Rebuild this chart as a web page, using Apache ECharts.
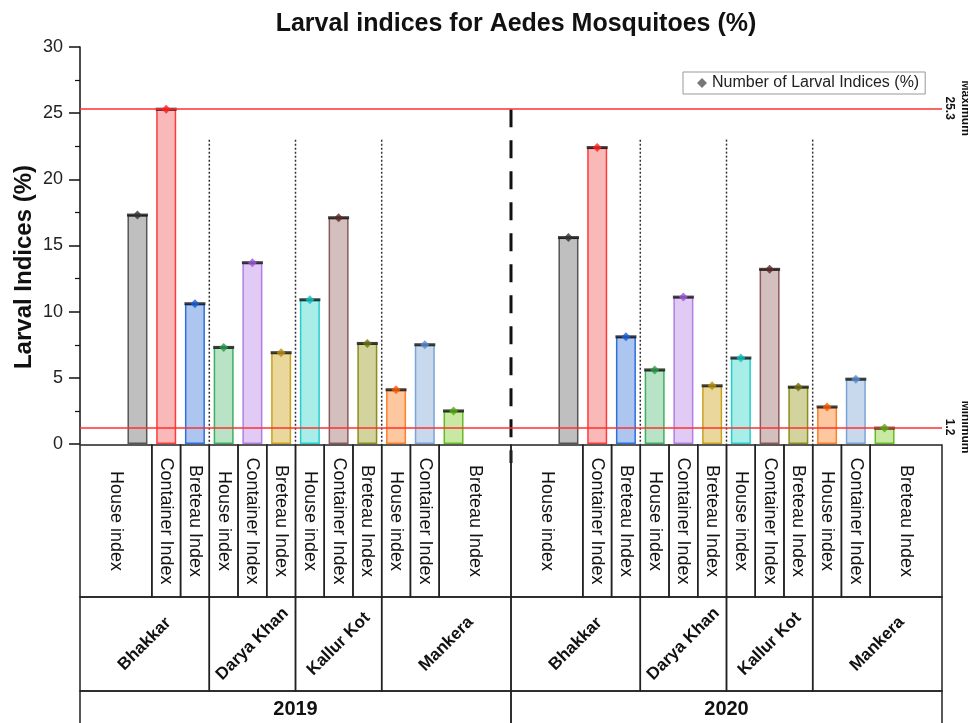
<!DOCTYPE html>
<html><head><meta charset="utf-8">
<script src="https://cdn.jsdelivr.net/npm/echarts@6/dist/echarts.min.js"></script>
<style>html,body{margin:0;padding:0;background:#fff}#c{width:968px;height:723px}</style>
</head><body><div id="c"></div>
<script>
// ---------- data ----------
const years = ['2019', '2020'];
const districts = ['Bhakkar', 'Darya Khan', 'Kallur Kot', 'Mankera'];
const indices = ['House index', 'Container Index', 'Breteau Index'];
const values2019 = [17.3, 25.3, 10.6, 7.3, 13.7, 6.9, 10.9, 17.1, 7.6, 4.1, 7.5, 2.5];
const values2020 = [15.6, 22.4, 8.1, 5.6, 11.1, 4.4, 6.5, 13.2, 4.3, 2.8, 4.9, 1.2];
const maxValue = 25.3;
const minValue = 1.2;
const seriesName = 'Number of Larval Indices (%)';
const chartTitle = 'Larval indices for Aedes Mosquitoes (%)';
const yAxisTitle = 'Larval Indices (%)';

// ---------- styles ----------
const FONT = '"Liberation Sans", Arial, Helvetica, sans-serif';
const barFill = ['#bfbfbf', '#f9b9b9', '#adc6ef', '#b8e3c6', '#e1cbf4', '#ead79c', '#a9ede9', '#d4bfbf', '#d3d49d', '#fdc8a0', '#c8d9ee', '#c9e8a4'];
const barBorder = ['#555555', '#ff3b3b', '#2f6fe0', '#3fae5f', '#b27ee6', '#c9a21f', '#25d0cc', '#8c5a5a', '#8b8b1f', '#ff7f27', '#7aa3d6', '#66bb22'];
const markColor = ['#333333', '#ff2020', '#1a5ed8', '#2a9a4a', '#9b59d8', '#b88e10', '#10c0c0', '#5a2a2a', '#707010', '#ff5a00', '#5a8ad0', '#55aa11'];

// ---------- layout on the x value axis (slots) ----------
const SLOTS_PER_YEAR = 15, FIRST_OFFSET = 2;
function pos(y, d, i) { return y * SLOTS_PER_YEAR + FIRST_OFFSET + d * indices.length + i; }

const yearValues = [values2019, values2020];
const barData = [], capData = [], markData = [];
yearValues.forEach((vals, y) => {
  districts.forEach((_, d) => {
    indices.forEach((_, i) => {
      const k = d * indices.length + i;
      const x = pos(y, d, i), v = vals[k];
      barData.push({ value: [x, v], itemStyle: { color: barFill[k], borderColor: barBorder[k], borderWidth: 1.5 } });
      capData.push([x, v]);
      markData.push({ value: [x, v], itemStyle: { color: markColor[k] } });
    });
  });
});

// table cells: [x0, x1, row, label]
const cells = [];
years.forEach((yr, y) => {
  const y0 = y * SLOTS_PER_YEAR, y1 = y0 + SLOTS_PER_YEAR;
  districts.forEach((dn, d) => {
    indices.forEach((lab, i) => {
      const x = pos(y, d, i);
      let a = x - 0.5, b = x + 0.5;
      if (d === 0 && i === 0) a = y0;
      if (d === districts.length - 1 && i === indices.length - 1) b = y1;
      cells.push([a, b, 0, lab]);
    });
    const a = d === 0 ? y0 : pos(y, d, 0) - 0.5;
    const b = d === districts.length - 1 ? y1 : pos(y, d, indices.length - 1) + 0.5;
    cells.push([a, b, 1, dn]);
  });
  cells.push([y0, y1, 2, yr]);
});

// separators: [kind, x, top]
const separators = [];
years.forEach((_, y) => {
  for (let d = 1; d < districts.length; d++) separators.push([0, pos(y, d, 0) - 0.5, 23]);
});
separators.push([1, SLOTS_PER_YEAR, maxValue]);

const refLines = [[maxValue, 'Maximum'], [minValue, 'Minimum']];

const chart = echarts.init(document.getElementById('c'), null, { renderer: 'canvas' });

const ROW_TOPS = [1, 153, 247, 300];
const ROW_FONTS = ['18px ' + FONT, 'bold 17px ' + FONT, 'bold 20px ' + FONT];

chart.setOption({
  animation: false,
  backgroundColor: '#fff',
  textStyle: { fontFamily: FONT },
  grid: { left: 80, right: 26, top: 47, bottom: 279 },
  legend: {
    data: [seriesName], left: 683, top: 72,
    borderColor: '#999', borderWidth: 1, padding: [3, 6, 3, 14],
    itemWidth: 10, itemHeight: 10, icon: 'diamond',
    textStyle: { fontSize: 16, color: '#222', fontFamily: FONT }
  },
  graphic: [
    { type: 'text', x: 516, y: 24, style: { text: chartTitle, font: 'bold 25px ' + FONT, fill: '#111', align: 'center', verticalAlign: 'middle' } },
    { type: 'text', x: 24, y: 267, rotation: Math.PI / 2, style: { text: yAxisTitle, font: 'bold 24px ' + FONT, fill: '#111', align: 'center', verticalAlign: 'middle' } }
  ],
  xAxis: { type: 'value', min: 0, max: 30, show: false },
  yAxis: {
    type: 'value', min: 0, max: 30, interval: 5,
    axisLine: { show: true, lineStyle: { color: '#111', width: 1.5 } },
    axisTick: { show: true, length: 11, lineStyle: { color: '#111', width: 1.5 } },
    minorTick: { show: true, splitNumber: 2, length: 5, lineStyle: { color: '#111', width: 1.2 } },
    splitLine: { show: false },
    axisLabel: { fontSize: 18, color: '#222', margin: 17, fontFamily: FONT }
  },
  series: [
    {
      type: 'bar', name: 'bars', data: barData, barWidth: 20, z: 2,
      markLine: {
        silent: true, symbol: 'none', label: { show: false },
        lineStyle: { color: '#ff3030', width: 1.5, type: 'solid' },
        data: refLines.map(r => ({ yAxis: r[0] }))
      }
    },
    {
      type: 'scatter', name: 'caps', data: capData, symbol: 'rect', symbolSize: [21, 3],
      itemStyle: { color: '#111' }, z: 4, silent: true
    },
    {
      type: 'scatter', name: seriesName, data: markData, symbol: 'diamond', symbolSize: 9,
      itemStyle: { color: '#555' }, z: 5
    },
    {
      type: 'custom', name: 'separators', data: separators, z: 3, silent: true, clip: false,
      renderItem: function (params, api) {
        const s = separators[params.dataIndex];
        const top = api.coord([s[1], s[2]]);
        const base = api.coord([s[1], 0])[1];
        const bottom = s[0] === 0 ? base : base + 19;
        return {
          type: 'line', shape: { x1: top[0], y1: top[1], x2: top[0], y2: bottom },
          style: { stroke: s[0] === 0 ? '#333' : '#111', lineWidth: s[0] === 0 ? 1.5 : 3, lineDash: s[0] === 0 ? [2, 2] : [18, 13] }
        };
      }
    },
    {
      type: 'custom', name: 'reflabels', data: refLines.map(r => [30, r[0]]), z: 3, silent: true, clip: false,
      renderItem: function (params, api) {
        const r = refLines[params.dataIndex];
        const p = api.coord([30, r[0]]);
        const f = 'bold 12px ' + FONT;
        return {
          type: 'group', children: [
            { type: 'text', x: p[0] + 7, y: p[1] - 1, rotation: -Math.PI / 2, style: { text: String(r[0]), font: f, fill: '#111', align: 'center', verticalAlign: 'middle' } },
            { type: 'text', x: p[0] + 23, y: p[1] - 1, rotation: -Math.PI / 2, style: { text: r[1], font: f, fill: '#111', align: 'center', verticalAlign: 'middle' } }
          ]
        };
      }
    },
    {
      type: 'custom', name: 'table', data: cells.map(c => [c[0], c[1]]), z: 6, silent: true, clip: false,
      renderItem: function (params, api) {
        const c = cells[params.dataIndex];
        const base = api.coord([0, 0])[1];
        const xa = api.coord([c[0], 0])[0], xb = api.coord([c[1], 0])[0];
        const ya = base + ROW_TOPS[c[2]], yb = base + ROW_TOPS[c[2] + 1];
        const cx = (xa + xb) / 2, cy = c[2] === 2 ? ya + 18 : (ya + yb) / 2;
        const rot = c[2] === 0 ? -Math.PI / 2 : (c[2] === 1 ? Math.PI / 4 : 0);
        return {
          type: 'group', children: [
            { type: 'rect', shape: { x: xa, y: ya, width: xb - xa, height: yb - ya }, style: { fill: 'none', stroke: '#222', lineWidth: 1.5 } },
            { type: 'text', x: cx, y: cy, rotation: rot, style: { text: c[3], font: ROW_FONTS[c[2]], fill: '#111', align: 'center', verticalAlign: 'middle' } }
          ]
        };
      }
    }
  ]
});
</script>
</body></html>
